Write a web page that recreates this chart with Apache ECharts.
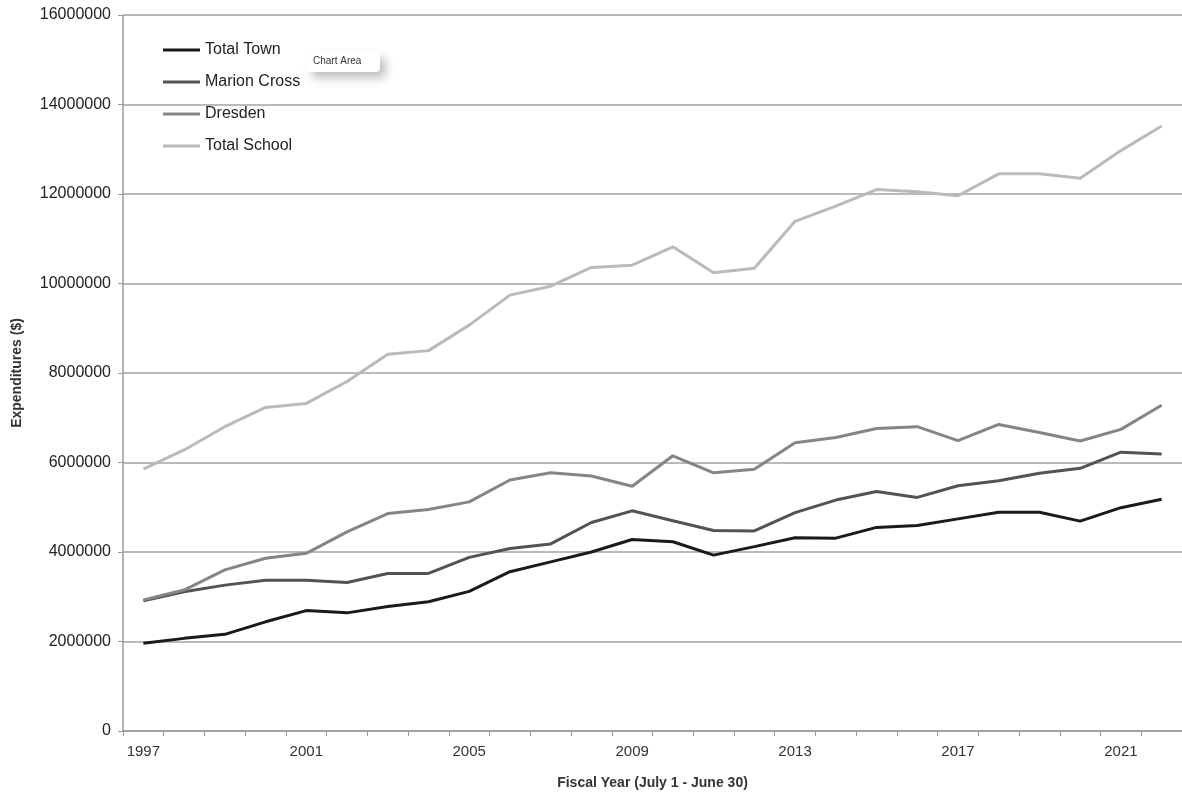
<!DOCTYPE html>
<html>
<head>
<meta charset="utf-8">
<title>Expenditures</title>
<script src="https://cdn.jsdelivr.net/npm/echarts@6/dist/echarts.min.js"></script>
<style>
  html, body { margin: 0; padding: 0; background: #fff; }
  #chart { width: 1182px; height: 796px; }
</style>
</head>
<body>
<div id="chart"></div>
<script>
// fiscal years
var years = ['1997','1998','1999','2000','2001','2002','2003','2004','2005','2006','2007','2008','2009',
             '2010','2011','2012','2013','2014','2015','2016','2017','2018','2019','2020','2021','2022'];

// expenditures ($)
var totalTown = [1960000, 2070000, 2160000, 2440000, 2690000, 2640000, 2780000, 2890000, 3120000, 3560000, 3780000, 4000000, 4280000,
                 4230000, 3930000, 4120000, 4320000, 4310000, 4550000, 4590000, 4740000, 4890000, 4890000, 4690000, 4990000, 5180000];
var marionCross = [2910000, 3110000, 3260000, 3370000, 3370000, 3320000, 3520000, 3520000, 3880000, 4080000, 4180000, 4660000, 4920000,
                   4700000, 4480000, 4470000, 4880000, 5160000, 5350000, 5220000, 5480000, 5590000, 5760000, 5870000, 6230000, 6190000];
var dresden = [2930000, 3150000, 3600000, 3860000, 3970000, 4450000, 4860000, 4950000, 5120000, 5610000, 5770000, 5700000, 5470000,
               6150000, 5770000, 5850000, 6440000, 6560000, 6760000, 6800000, 6490000, 6850000, 6670000, 6480000, 6740000, 7280000];
var totalSchool = [5850000, 6280000, 6800000, 7230000, 7320000, 7810000, 8420000, 8500000, 9070000, 9740000, 9940000, 10360000, 10410000,
                   10820000, 10240000, 10340000, 11390000, 11730000, 12100000, 12050000, 11960000, 12450000, 12450000, 12350000, 12970000, 13520000];

var seriesNames = ['Total Town', 'Marion Cross', 'Dresden', 'Total School'];
var seriesColors = ['#1a1a1a', '#535353', '#858585', '#bababa'];
var seriesData = [totalTown, marionCross, dresden, totalSchool];

var chart = echarts.init(document.getElementById('chart'));

var series = seriesNames.map(function (name, i) {
  return {
    name: name,
    type: 'line',
    data: seriesData[i],
    symbol: 'none',
    smooth: false,
    lineStyle: { width: 3, color: seriesColors[i] },
    itemStyle: { color: seriesColors[i] }
  };
});

chart.setOption({
  backgroundColor: '#fff',
  animation: false,
  textStyle: { fontFamily: 'Liberation Sans' },
  grid: { left: 123, right: -2, top: 15, bottom: 65 },
  legend: {
    orient: 'vertical',
    left: 163,
    top: 42,
    padding: 0,
    itemWidth: 37,
    itemHeight: 14,
    itemGap: 16,
    icon: 'path://M0 0H37V3H0Z',
    symbolKeepAspect: true,
    data: seriesNames,
    textStyle: { fontSize: 16, color: '#222', fontFamily: 'Liberation Sans' }
  },
  xAxis: {
    type: 'category',
    data: years,
    boundaryGap: true,
    name: 'Fiscal Year (July 1 - June 30)',
    nameLocation: 'middle',
    nameGap: 45,
    nameTextStyle: { fontSize: 14, fontWeight: 'bold', color: '#333' },
    axisLine: { lineStyle: { color: '#9a9a9a', width: 1.5 } },
    axisTick: { show: true, interval: 0, length: 5, lineStyle: { color: '#9a9a9a' } },
    axisLabel: { interval: 3, fontSize: 15, color: '#333', margin: 13 },
    splitLine: { show: false }
  },
  yAxis: {
    type: 'value',
    min: 0,
    max: 16000000,
    interval: 2000000,
    name: 'Expenditures ($)',
    nameLocation: 'middle',
    nameGap: 99,
    nameTextStyle: { fontSize: 14, fontWeight: 'bold', color: '#333' },
    axisLine: { show: true, lineStyle: { color: '#9a9a9a', width: 1.5 } },
    axisTick: { show: true, length: 5, lineStyle: { color: '#9a9a9a' } },
    axisLabel: { fontSize: 16, color: '#222', margin: 12, formatter: function (v) { return String(v); } },
    splitLine: { show: true, lineStyle: { color: '#a3a3a3', width: 1.5 } }
  },
  graphic: [{
    type: 'group',
    left: 306,
    top: 52,
    children: [{
      type: 'rect',
      shape: { x: 0, y: 0, width: 74, height: 20, r: 4 },
      style: { fill: '#fff', shadowBlur: 10, shadowOffsetX: 6, shadowOffsetY: 6, shadowColor: 'rgba(0,0,0,0.25)' }
    }, {
      type: 'text',
      x: 7,
      y: 4,
      style: { text: 'Chart Area', fontSize: 10, fill: '#333', fontFamily: 'Liberation Sans' }
    }]
  }],
  series: series
});
</script>
</body>
</html>
